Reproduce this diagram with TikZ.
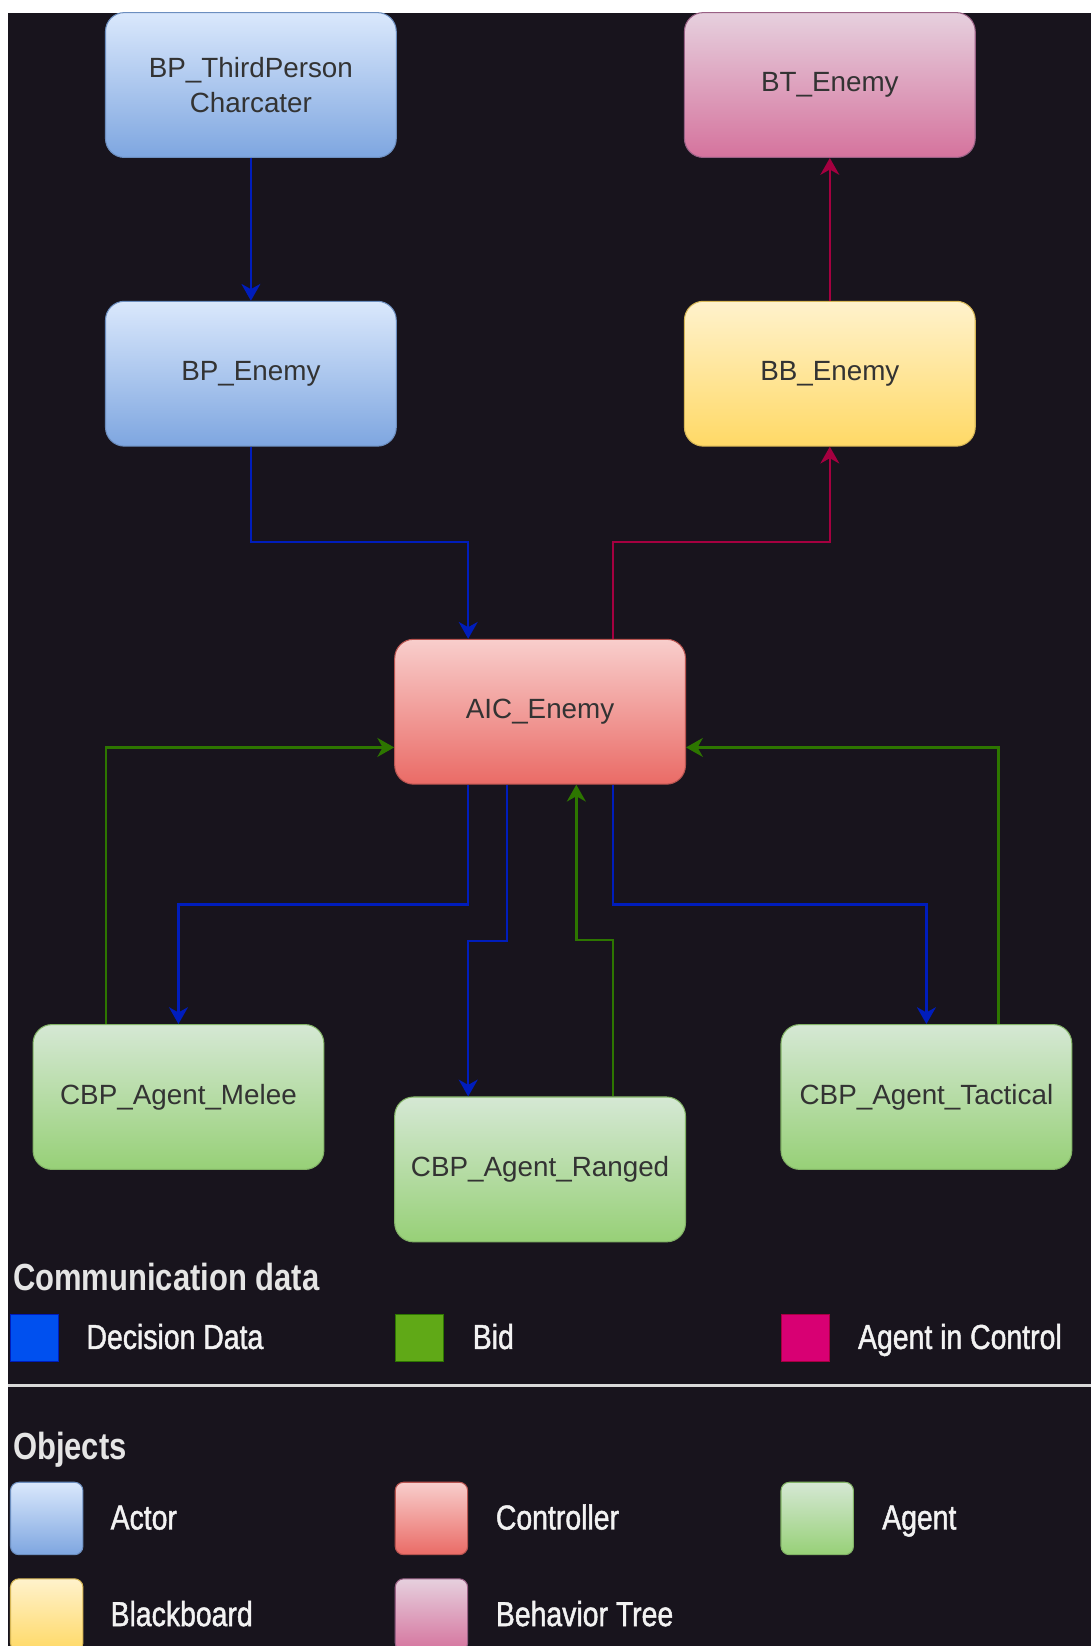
\documentclass[tikz,border=0pt]{standalone}
\usepackage{fontspec}
\setmainfont{Liberation Sans}
\newfontfamily\narrowfont[FakeStretch=0.82]{Liberation Sans}
\newfontfamily\narrowsemi[FakeStretch=0.82,FakeBold=1.3]{Liberation Sans}
\usetikzlibrary{arrows.meta,calc}
\definecolor{aibg}{HTML}{18141D}
\definecolor{aidecis}{HTML}{001DBC}
\definecolor{aibid}{HTML}{2D7600}
\definecolor{aictrl}{HTML}{A50040}
\definecolor{aidecisfill}{HTML}{0050EF}
\definecolor{aibidfill}{HTML}{60A917}
\definecolor{aictrlfill}{HTML}{D80073}
\definecolor{aiactortop}{HTML}{DAE8FC}
\definecolor{aiactorbot}{HTML}{7EA6E0}
\definecolor{aiactorline}{HTML}{6C8EBF}
\definecolor{aicontop}{HTML}{F8CECC}
\definecolor{aiconbot}{HTML}{EA6B66}
\definecolor{aiconline}{HTML}{B85450}
\definecolor{aiagenttop}{HTML}{D5E8D4}
\definecolor{aiagentbot}{HTML}{97D077}
\definecolor{aiagentline}{HTML}{82B366}
\definecolor{aiboardtop}{HTML}{FFF2CC}
\definecolor{aiboardbot}{HTML}{FFD966}
\definecolor{aiboardline}{HTML}{D6B656}
\definecolor{aitreetop}{HTML}{E6D0DE}
\definecolor{aitreebot}{HTML}{D5739D}
\definecolor{aitreeline}{HTML}{996185}

\begin{document}
\begin{tikzpicture}[x=0.5pt, y=-0.5pt,
  box/.style={draw, line width=0.5pt, rounded corners=9pt, minimum width=138.5pt, minimum height=69pt, inner sep=2pt, align=center, text=black!80, font=\fontsize{13.25}{17}\selectfont},
  actor/.style={box, draw=aiactorline, top color=aiactortop, bottom color=aiactorbot},
  control/.style={box, draw=aiconline, top color=aicontop, bottom color=aiconbot},
  agent/.style={box, draw=aiagentline, top color=aiagenttop, bottom color=aiagentbot},
  board/.style={box, draw=aiboardline, top color=aiboardtop, bottom color=aiboardbot},
  tree/.style={box, draw=aitreeline, top color=aitreetop, bottom color=aitreebot},
  link/.style={line width=1.2pt, -{Stealth[length=8pt, width=9pt, inset=2.5pt]}},
  decis/.style={link, color=aidecis},
  bid/.style={link, color=aibid},
  ctrl/.style={link, color=aictrl},
  legsq/.style={draw, line width=0.6pt, minimum width=23pt, minimum height=22.5pt, inner sep=0pt},
  objsw/.style={draw, line width=0.5pt, rounded corners=4pt, minimum size=34.5pt, inner sep=0pt},
  legtext/.style={anchor=base west, inner sep=0pt, text=white!95!black, font=\narrowsemi\fontsize{16.5}{20}\selectfont},
  leghead/.style={anchor=base west, inner sep=0pt, text=white!90!black, font=\narrowfont\bfseries\fontsize{18}{22}\selectfont}]
  \useasboundingbox (0,0) rectangle (1039,1568);
  \fill[white] (-10,-10) rectangle (1050,1580);
  \fill[aibg] (8,12) rectangle (1050,1580);

  \node[actor] (tpc) at (239,81) {BP\_ThirdPerson\\Charcater};
  \node[actor] (bpe) at (239,356) {BP\_Enemy};
  \node[tree] (bte) at (790.5,81) {BT\_Enemy};
  \node[board] (bbe) at (790.5,356) {BB\_Enemy};
  \node[control] (aic) at (514.5,678) {AIC\_Enemy};
  \node[agent] (melee) at (170,1045) {CBP\_Agent\_Melee};
  \node[agent] (ranged) at (514.5,1114) {CBP\_Agent\_Ranged};
  \node[agent] (tactical) at (882.5,1045) {CBP\_Agent\_Tactical};

  \draw[decis] (tpc.south) -- (bpe.north);
  \draw[decis] (bpe.south) -- ++(0,91) -| ($(aic.north)+(-68.5,0)$);
  \draw[ctrl] ($(aic.north)+(69.5,0)$) -- ++(0,-92) -| (bbe.south);
  \draw[ctrl] (bbe.north) -- (bte.south);
  \draw[decis] ($(aic.south)+(-68.5,0)$) -- ++(0,114) -| (melee.north);
  \draw[decis] ($(aic.south)+(-31.5,0)$) -- ++(0,149) -| ($(ranged.north)+(-68.5,0)$);
  \draw[bid] ($(ranged.north)+(69.5,0)$) -- ++(0,-149) -| ($(aic.south)+(34.5,0)$);
  \draw[decis] ($(aic.south)+(69.5,0)$) -- ++(0,114) -| (tactical.north);
  \draw[bid] ($(melee.north)+(-69,0)$) |- ($(aic.west)+(0,34)$);
  \draw[bid] ($(tactical.north)+(68.5,0)$) |- ($(aic.east)+(0,34)$);

  \node[leghead] (commhead) at (12,1229) {Communication data};
  \node[legsq, draw=aidecis, fill=aidecisfill] (decissq) at (33,1274.5) {};
  \node[legtext] (decistext) at (82,1285) {Decision Data};
  \node[legsq, draw=aibid, fill=aibidfill] (bidsq) at (399.5,1274.5) {};
  \node[legtext] (bidtext) at (450,1285) {Bid};
  \node[legsq, draw=aictrl, fill=aictrlfill] (ctrlsq) at (767.5,1274.5) {};
  \node[legtext] (ctrltext) at (817,1285) {Agent in Control};

  \draw[white!85!black, line width=1.2pt] (8,1320) -- (1050,1320);

  \node[leghead] (objhead) at (12,1390) {Objects};
  \node[objsw, draw=aiactorline, top color=aiactortop, bottom color=aiactorbot] (actorsw) at (44.5,1446.5) {};
  \node[legtext] (actortext) at (105,1457) {Actor};
  \node[objsw, draw=aiconline, top color=aicontop, bottom color=aiconbot] (consw) at (411,1446.5) {};
  \node[legtext] (context) at (472,1457) {Controller};
  \node[objsw, draw=aiagentline, top color=aiagenttop, bottom color=aiagentbot] (agentsw) at (778.5,1446.5) {};
  \node[legtext] (agenttext) at (840,1457) {Agent};
  \node[objsw, draw=aiboardline, top color=aiboardtop, bottom color=aiboardbot] (boardsw) at (44.5,1538.5) {};
  \node[legtext] (boardtext) at (105,1549) {Blackboard};
  \node[objsw, draw=aitreeline, top color=aitreetop, bottom color=aitreebot] (treesw) at (411,1538.5) {};
  \node[legtext] (treetext) at (472,1549) {Behavior Tree};
\end{tikzpicture}
\end{document}
